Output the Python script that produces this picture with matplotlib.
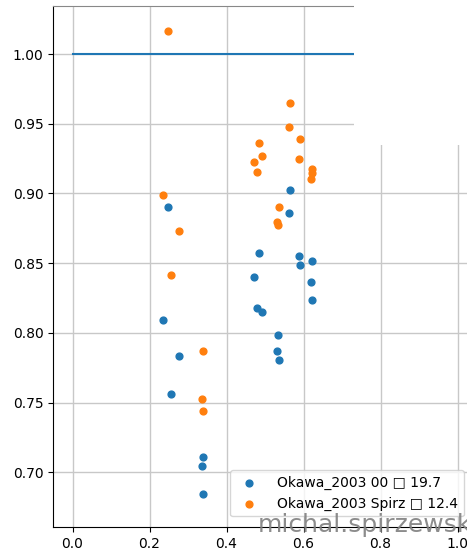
import matplotlib
matplotlib.use("Agg")
import matplotlib.pyplot as plt
from matplotlib.patches import Rectangle

x_vals = [0.249, 0.235, 0.276, 0.257, 0.339, 0.335, 0.339,
          0.566, 0.561, 0.485, 0.588, 0.591, 0.621, 0.471,
          0.620, 0.623, 0.480, 0.493, 0.533, 0.531, 0.537]
y_00 = [0.8902, 0.8095, 0.7834, 0.7564, 0.7110, 0.7048, 0.6847,
        0.9024, 0.8857, 0.8573, 0.8552, 0.8489, 0.8513, 0.8401,
        0.8363, 0.8236, 0.8177, 0.8153, 0.7988, 0.7869, 0.7802]
x_sp = [0.249, 0.235, 0.276, 0.257, 0.339, 0.335, 0.339,
        0.565, 0.561, 0.485, 0.590, 0.493, 0.471, 0.588,
        0.480, 0.623, 0.621, 0.620, 0.537, 0.531, 0.534]
y_sp = [1.0165, 0.8986, 0.8731, 0.8413, 0.7869, 0.7528, 0.7437,
        0.965, 0.948, 0.9365, 0.939, 0.927, 0.9225, 0.9246,
        0.9157, 0.9174, 0.9146, 0.9105, 0.890, 0.8792, 0.8773]
ref_x = [0.0, 1.0]
ref_y = [1.0, 1.0]
label_00 = "Okawa_2003 00 \u25a1 19.7"
label_sp = "Okawa_2003 Spirz \u25a1 12.4"

W, H = 467, 549
fig = plt.figure(figsize=(W / 100, H / 100), dpi=100)
ax = fig.add_axes([53.3 / W, 22 / H, 423.5 / W, 521 / H])
ax.plot(ref_x, ref_y, color="C0", lw=1.5)
ax.scatter(x_vals, y_00, color="C0", s=24, label=label_00, zorder=3)
ax.scatter(x_sp, y_sp, color="C1", s=24, label=label_sp, zorder=3)
ax.set_xlim(-0.05, 1.05)
ax.set_ylim(0.6607, 1.0345)
ax.set_xticks([0.0, 0.2, 0.4, 0.6, 0.8, 1.0])
ax.set_yticks([0.70, 0.75, 0.80, 0.85, 0.90, 0.95, 1.00])
ax.grid(True, color="#c8c8c8", lw=1)
ax.set_axisbelow(True)
ax.spines["top"].set_color("#888888")
ax.legend(loc="upper left", bbox_to_anchor=(230 / W, 1 - 470 / H),
          bbox_transform=fig.transFigure, borderaxespad=0,
          handletextpad=1.0)

fig.text(258 / W, 1 - 532 / H, "michal.spirzewski.pl", fontsize=18,
         color="gray", alpha=0.9, zorder=10)
fig.patches.append(Rectangle((354 / W, 1 - 145 / H), 1 - 354 / W, 145 / H,
                             transform=fig.transFigure, facecolor="white",
                             edgecolor="none", zorder=20))
fig.savefig("out.png", dpi=100)
